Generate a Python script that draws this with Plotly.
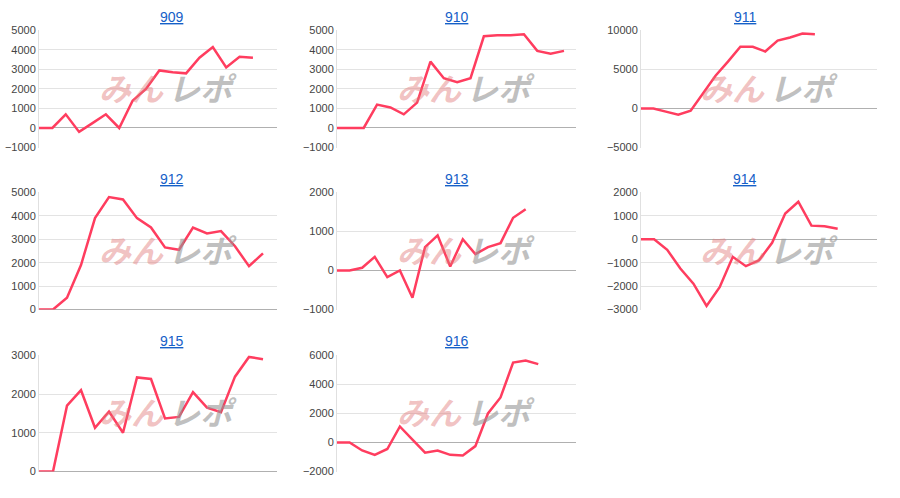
import plotly.graph_objects as go

titles = ["909", "910", "911", "912", "913", "914", "915", "916"]
s909 = [0, 0, 700, -200, 250, 700, 0, 1400, 2000, 2950, 2850, 2800, 3600, 4150, 3100, 3650, 3600]
s910 = [0, 0, 0, 1200, 1050, 700, 1300, 3400, 2550, 2350, 2550, 4700, 4750, 4750, 4800, 3950, 3800, 3950]
s911 = [0, 0, -400, -800, -300, 2000, 4200, 6000, 7900, 7900, 7300, 8700, 9100, 9600, 9500]
s912 = [0, 0, 500, 1900, 3900, 4800, 4700, 3900, 3500, 2650, 2550, 3500, 3250, 3350, 2700, 1850, 2400]
s913 = [0, 0, 70, 350, -170, 0, -700, 600, 900, 100, 800, 420, 600, 700, 1350, 1570]
s914 = [0, 0, -450, -1250, -1900, -2850, -2050, -750, -1150, -900, -150, 1100, 1600, 580, 550, 450]
s915 = [0, 0, 1700, 2100, 1130, 1550, 1000, 2430, 2390, 1370, 1410, 2050, 1650, 1530, 2450, 2960, 2900]
s916 = [0, 0, -550, -850, -450, 1100, 200, -700, -550, -850, -900, -250, 2000, 3100, 5500, 5650, 5400]
series = [s909, s910, s911, s912, s913, s914, s915, s916]

yranges = [(-1000, 5000, 1000), (-1000, 5000, 1000), (-5000, 10000, 5000), (0, 5000, 1000),
           (-1000, 2000, 1000), (-3000, 2000, 1000), (0, 3000, 1000), (-2000, 6000, 2000)]
xmax = [17.8, 17.9, 19, 17, 19, 18, 17, 19]

W, H = 900, 498
cols = [(39, 277), (337, 576), (641, 877)]
rows = [(25, 145), (191, 311), (358, 477)]
tiy = [11, 177, 343]

fig = go.Figure()
layout = {}
anns = []
for i, (t, s) in enumerate(zip(titles, series)):
    r, c = divmod(i, 3)
    x0, x1 = cols[c]
    y0, y1 = rows[r]
    n = i + 1
    xa = "x" if n == 1 else f"x{n}"
    ya = "y" if n == 1 else f"y{n}"
    fig.add_trace(go.Scatter(x=list(range(len(s))), y=s, mode="lines", xaxis=xa, yaxis=ya,
                             line=dict(color="#ff3d5f", width=2.5), showlegend=False, hoverinfo="skip"))
    lo, hi, st = yranges[i]
    layout[f"xaxis{'' if n == 1 else n}"] = dict(domain=[x0 / W, x1 / W], range=[0, xmax[i]],
        showticklabels=False, showgrid=False, zeroline=False, anchor=ya, fixedrange=True)
    layout[f"yaxis{'' if n == 1 else n}"] = dict(domain=[1 - y1 / H, 1 - y0 / H], range=[lo, hi], dtick=st,
        tick0=lo, tickformat="d", showgrid=True, gridcolor="#e3e3e3", zeroline=True, zerolinecolor="#b0b0b0",
        zerolinewidth=1, showline=True, linecolor="#e0e0e0", ticks="",
        tickfont=dict(family="Arial, Liberation Sans", size=11, color="#444"), anchor=xa, fixedrange=True)
    cx = (x0 + x1) / 2 / W
    anns.append(dict(text=f"<u>{t}</u>", x=cx, y=1 - tiy[r] / H, xref="paper", yref="paper",
                     yanchor="middle", showarrow=False,
                     font=dict(family="Arial, Liberation Sans", size=14, color="#1560c8")))
    cy = 1 - ((y0 + y1) / 2 - 2) / H
    lx = cx + 8 / W
    anns.append(dict(text="<b><i>みん</i></b>", x=lx, y=cy, xref="paper", yref="paper",
                     xanchor="right", yanchor="middle", showarrow=False,
                     font=dict(family="Noto Sans CJK JP", size=32, color="rgba(225,120,120,0.45)")))
    anns.append(dict(text="<b><i>レポ</i></b>", x=lx, y=cy, xref="paper", yref="paper",
                     xanchor="left", yanchor="middle", showarrow=False,
                     font=dict(family="Noto Sans CJK JP", size=32, color="rgba(150,150,150,0.6)")))

fig.update_layout(**layout, annotations=anns, width=W, height=H,
                  margin=dict(l=0, r=0, t=0, b=0), paper_bgcolor="white", plot_bgcolor="white")
fig.write_html("out.html", config={"displayModeBar": False},
               post_script="document.body.style.margin='0';document.body.style.overflow='hidden';")
